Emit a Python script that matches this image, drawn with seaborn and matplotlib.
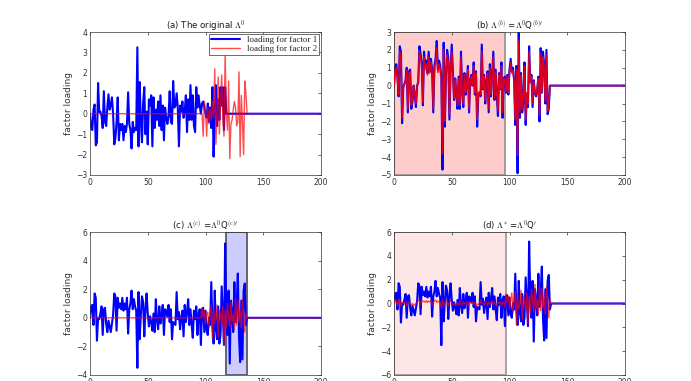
import numpy as np
import pandas as pd
import matplotlib
matplotlib.use("Agg")
import matplotlib.pyplot as plt
import seaborn as sns

N_TOTAL = 200

# ---------------- data ----------------
a_f1 = [-0.7, -0.8, 0.2, 0.45, -1.55, -1.4, 1.5, 0.1, 0.1, -0.1,
        -0.7, 1.1, -0.4, -0.6, 0.3, 0.95, 0.2, 0.4, 0.8, 0.0,
        -1.5, -1.2, -0.4, 0.8, -1.3, -0.5, -0.8, -0.5, -1.3, -0.6,
        -0.9, -0.5, 1.05, -0.5, -0.8, -1.7, -0.4, -0.9, -0.7, -0.8,
        3.25, -1.6, 1.55, -0.3, -1.4, 0.5, 1.3, -1.0, 0.1, -1.5,
        0.7, 0.4, 0.9, -1.6, 0.8, -0.7, 0.2, -0.3, 0.6, -0.6,
        0.9, -0.8, 0.4, -1.3, 0.3, -0.2, -0.5, -0.1, 1.1, -0.4,
        -0.5, 1.6, 0.3, 0.4, 1.0, 0.3, -1.6, 0.4, 0.1, 0.6,
        -0.2, 0.1, 0.9, -0.9, 0.7, -0.3, 1.4, -0.3, 0.9, -0.6,
        -0.9, 1.3, 0.3, 0.9, 0.4, 0.0, 0.5, 0.6, 0.3, 0.0,
        -0.2, 0.5, -0.4, 0.3, -0.7, 1.3, -2.1, 0.1, 1.4, -0.6,
        0.7, -0.3, 1.3, 0.4, 1.3, -0.8, 1.3, 0.0]
a_f2 = [0.0] * 96 + [
        0.0, -1.1, 0.6, 0.2, -1.1, 0.3, -0.5, 0.2, -0.3, 0.6,
        -0.2, 2.2, -1.5, 0.2, 1.8, -1.0, 0.5, 1.9, -0.2, -1.1,
        2.9, 0.1, -0.8, 1.6, -2.2, -0.5, -0.3, 0.2, 0.6, 0.3,
        -0.6, -0.4, 2.05, -2.1, 0.9, -0.4, -2.0, 1.6, 1.0, 0.0]

b_f1 = [1.0, 1.2, 0.5, -0.6, 2.2, 1.9, -2.1, -0.1, 0.1, 0.3,
        1.0, -1.5, 0.8, 0.9, -1.3, -0.9, 0.0, -0.5, -1.2, 0.0,
        0.2, 2.2, 1.8, 1.3, -1.1, 1.9, 1.1, 1.4, 0.7, 1.9,
        0.8, 1.5, 0.9, -1.5, 1.1, 1.5, 2.5, 0.9, 1.4, 1.1,
        0.5, -4.7, 2.4, -2.3, 0.6, 2.0, 1.5, -1.9, 1.0, 2.3,
        0.7, -0.8, 0.4, -0.5, -1.3, 0.5, -1.3, 1.9, -0.3, -1.2,
        0.7, -0.5, 0.2, 1.1, -1.5, 0.3, 0.6, 0.0, 1.3, -0.5,
        0.8, -2.3, -0.5, -0.4, -0.6, 2.3, -0.2, 0.6, -1.0, 0.2,
        0.8, -1.5, 1.2, -0.6, 0.6, 1.9, -0.8, 0.9, -0.5, -1.7,
        0.7, -0.2, 1.3, -1.8, 0.4, 0.5, -0.4, 0.6, -0.5, 0.9,
        1.5, 0.8, 1.0, 0.3, -2.2, 1.1, -4.9, 3.0, -1.8, 0.7,
        -1.5, -0.8, 1.3, -2.2, -0.5, -1.2, 2.2, 0.2, 0.6, -1.2,
        0.3, -0.4, -0.6, -0.2, 0.5, -2.0, 2.1, -0.4, 1.9, 1.2,
        -1.0, 2.0, -1.6, -1.3, 0.0, 0.0]
b_f2 = [0.85, 1.0, 0.4, -0.5, 1.9, 1.6, -1.8, -0.1, 0.1, 0.25,
        0.85, -1.3, 0.7, 0.75, -1.1, -0.8, 0.0, -0.4, -1.0, 0.0,
        0.15, 1.9, 1.5, 1.1, -0.95, 1.6, 0.9, 1.2, 0.6, 1.6,
        0.7, 1.3, 0.75, -1.3, 0.9, 1.3, 2.1, 0.75, 1.2, 0.95,
        0.4, -3.8, 2.0, -2.0, 0.5, 1.7, 1.3, -1.6, 0.85, 1.9,
        0.6, -0.7, 0.35, -0.4, -1.1, 0.4, -1.1, 1.6, -0.25, -1.0,
        0.6, -0.4, 0.15, 0.9, -1.3, 0.25, 0.5, 0.0, 1.1, -0.4,
        0.7, -1.9, -0.4, -0.35, -0.5, 1.9, -0.15, 0.5, -0.85, 0.15,
        0.7, -1.3, 1.0, -0.5, 0.5, 1.6, -0.7, 0.75, -0.4, -1.4,
        0.6, -0.15, 1.1, -1.5, 0.35, 0.4, -0.35, 0.5, -0.4, 0.75,
        1.3, 0.7, 0.85, 0.25, -1.9, 0.9, -3.9, 2.5, -1.5, 0.6,
        -1.3, -0.7, 1.1, -1.9, -0.4, -1.0, 1.9, 0.15, 0.5, -1.0,
        0.25, -0.35, -0.5, -0.15, 0.4, -1.7, 1.8, -0.35, 1.6, 1.0,
        -0.85, 1.7, -1.4, -1.1, 0.0, 0.0]

c_f1 = [0.8, 0.9, -0.5, 1.7, 1.4, -1.6, 0.0, -0.1, 0.3, 0.8,
        -1.2, 0.6, 0.7, -0.4, -1.0, -0.2, -0.6, -1.0, -0.4, 0.2,
        1.7, 1.5, -0.9, 1.4, 0.7, 1.0, 0.6, 1.4, 0.5, 1.0,
        0.6, 1.4, -1.1, 0.6, 1.0, 1.9, 0.6, 1.3, 0.8, 0.5,
        -3.5, 1.8, -1.5, 0.2, 1.5, 1.1, -1.3, 0.6, 1.7, 0.3,
        -0.6, 0.1, -0.3, -0.9, 0.3, -1.0, 1.3, -0.2, -0.8, 0.8,
        -0.4, 0.2, 0.9, -1.2, 0.6, 0.5, 0.1, 0.9, -0.3, 0.6,
        -1.5, -0.3, -0.4, -0.5, 1.8, -0.1, 0.4, -0.8, 0.0, 0.5,
        -1.3, 0.9, -0.3, 0.4, 1.3, -0.5, 0.6, -0.5, -1.4, 0.5,
        -0.1, 0.8, -1.2, 0.3, 0.6, -1.9, 0.6, 0.7, -1.0, 0.5,
        -0.9, -1.2, 0.0, -0.5, 2.5, -0.5, -1.8, 1.9, -0.8, -1.5,
        0.8, -1.8, -1.2, 2.2, 0.2, -1.9, 5.2, 0.5, -1.2, 1.9,
        -3.2, 1.2, 0.3, -1.0, 2.5, -0.3, 0.8, 3.1, -1.3, -3.1,
        1.2, -2.9, 1.9, 2.4, -0.5, 0.0]
c_f2 = [0.0] * 96 + [
        0.7, 0.0, 0.5, -0.4, 0.2, 0.4, -0.6, 0.2, 0.9, -1.5,
        0.6, -0.4, -0.1, 0.9, -1.3, 0.5, 0.2, -0.5, 0.8, -1.9,
        0.5, -0.7, 1.0, 0.1, -0.6, 1.1, -0.3, 0.2, -0.8, 1.4,
        -0.5, 1.2, -0.3, 0.5, -0.7, 1.3, 0.3, -1.0, 0.3, 0.0]

d_f1 = c_f1
d_f2 = [0.2, 0.25, -0.2, 0.3, 0.25, -0.25, 0.1, 0.0, 0.1, 0.15,
        -0.2, 0.1, 0.15, -0.05, -0.15, 0.0, -0.1, -0.15, 0.0, 0.05,
        0.3, 0.25, -0.1, 0.25, 0.15, 0.2, 0.1, 0.25, 0.1, 0.2,
        0.15, 0.25, -0.15, 0.1, 0.2, 0.3, 0.1, 0.2, 0.15, 0.1,
        -0.4, 0.3, -0.2, 0.05, 0.25, 0.2, -0.2, 0.1, 0.3, 0.05,
        -0.1, 0.0, -0.05, -0.15, 0.05, -0.15, 0.2, -0.05, -0.1, 0.15,
        -0.05, 0.05, 0.15, -0.2, 0.1, 0.1, 0.0, 0.15, -0.05, 0.1,
        -0.25, -0.05, -0.05, -0.1, 0.3, 0.0, 0.05, -0.15, 0.0, 0.1,
        -0.2, 0.15, -0.05, 0.05, 0.2, -0.1, 0.1, -0.1, -0.2, 0.1,
        0.0, 0.15, -0.2, 0.05, 0.1, -0.3,
        0.8, 0.1, 0.6, -0.5, 0.3, 0.9, -0.7, 0.2, 1.0, -1.8,
        0.7, -0.5, 0.0, 1.1, -1.4, 0.6, 0.3, -0.6, 0.9, -1.7,
        0.6, -0.8, 1.2, 0.2, -0.7, 1.6, -0.4, 0.3, -0.9, 1.5,
        -0.6, 1.3, -0.4, 0.6, -0.9, 1.4, 0.4, -1.2, 0.3, 0.0]

titles = [r"(a) The original $\Lambda^0$",
          r"(b) $\Lambda^{(b)}$ =$\Lambda^0$Q$^{(b)\prime}$",
          r"(c) $\Lambda^{(c)}$ =$\Lambda^0$Q$^{(c)\prime}$",
          r"(d) $\Lambda^{*}$ =$\Lambda^0$Q$^{\prime}$"]
ylims = [(-3, 4), (-5, 3), (-4, 6), (-6, 6)]
ysteps = [1, 1, 2, 2]
legend_labels = ["loading for factor 1", "loading for factor 2"]
spans = [None, (0, 96), (118, 136), (0, 97)]
span_colors = [None, (1.0, 0.80, 0.80), (0.80, 0.80, 1.0), (1.0, 0.90, 0.90)]
span_edges = [None, (0.62, 0.58, 0.58), (0.35, 0.35, 0.40), (0.65, 0.60, 0.60)]

series = [(a_f1, a_f2), (b_f1, b_f2), (c_f1, c_f2), (d_f1, d_f2)]


def full(vals):
    arr = np.zeros(N_TOTAL + 1)
    arr[1:1 + len(vals)] = vals
    return arr


sns.set_style("white")
plt.rcParams["mathtext.fontset"] = "cm"
plt.rcParams["font.family"] = ["DejaVu Sans"]

fig = plt.figure(figsize=(6.91, 3.81), dpi=100)
W, H = 691.0, 381.0
boxes = [(90, 32), (394, 32), (90, 232), (394, 232)]
aw, ah = 231, 143

x = np.arange(0, N_TOTAL + 1)
for i, ((px, py), (s1, s2)) in enumerate(zip(boxes, series)):
    ax = fig.add_axes([px / W, 1 - (py + ah) / H, aw / W, ah / H])
    if spans[i] is not None:
        ax.axvspan(spans[i][0], spans[i][1], facecolor=span_colors[i],
                   edgecolor=span_edges[i], linewidth=1.3, zorder=0)
    df = pd.DataFrame({"x": x, "f1": full(s1), "f2": full(s2)})
    sns.lineplot(data=df, x="x", y="f1", ax=ax, color=(0, 0, 1), linewidth=1.5,
                 label=legend_labels[0], zorder=2)
    sns.lineplot(data=df, x="x", y="f2", ax=ax, color=(1, 0, 0),
                 linewidth=1.0 if i != 1 else 1.2,
                 alpha=0.7 if i != 1 else 0.85,
                 label=legend_labels[1], zorder=3)
    ax.set_xlim(0, 200)
    ax.set_ylim(*ylims[i])
    ax.set_xticks([0, 50, 100, 150, 200])
    ax.set_yticks(np.arange(ylims[i][0], ylims[i][1] + 0.01, ysteps[i]))
    ax.tick_params(direction="in", length=2.5, width=0.5, labelsize=5.5,
                   colors=(0.2, 0.2, 0.2), top=True, right=True, pad=2)
    for sp in ax.spines.values():
        sp.set_color((0.2, 0.2, 0.2))
        sp.set_linewidth(0.5)
    ax.set_xlabel("")
    ax.set_ylabel("factor loading", fontsize=6.5, color=(0.2, 0.2, 0.2), labelpad=2)
    ax.set_title(titles[i], fontsize=6.2, pad=2, color=(0.1, 0.1, 0.1))
    if i == 0:
        leg = ax.legend(loc="upper right", fontsize=6.5, frameon=True, fancybox=False,
                        framealpha=1, edgecolor=(0.2, 0.2, 0.2), borderpad=0.2,
                        handlelength=3.2, labelspacing=0.1, borderaxespad=0.2,
                        prop={"family": "Liberation Serif", "size": 6.5})
        leg.get_frame().set_linewidth(0.5)
    else:
        lg = ax.get_legend()
        if lg is not None:
            lg.remove()

fig.savefig("out.png", dpi=100)
